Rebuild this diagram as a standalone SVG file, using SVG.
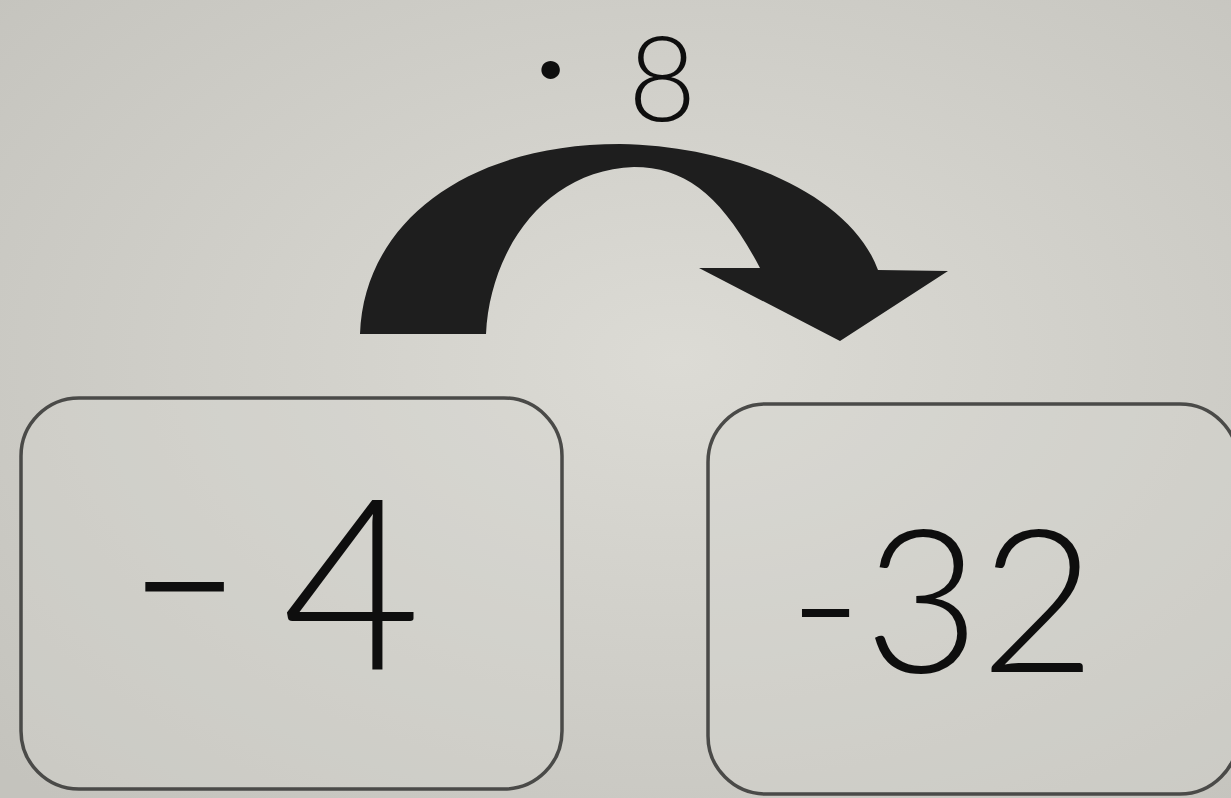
<svg xmlns="http://www.w3.org/2000/svg" width="1231" height="798" viewBox="0 0 1231 798">
  <defs>
    <radialGradient id="bg" cx="0.55" cy="0.45" r="0.75">
      <stop offset="0" stop-color="#dcdbd5"/>
      <stop offset="1" stop-color="#c4c3bd"/>
    </radialGradient>
    <style>
      .box { fill: #d8d7d1; fill-opacity: 0.35; stroke: #4a4a48; stroke-width: 3.5; }
      .hand { font-family: Lato, "Open Sans", "Liberation Sans", sans-serif; font-weight: 300; fill: #0e0e0e; }
    </style>
  </defs>
  <rect width="1231" height="798" fill="url(#bg)"/>

  <g id="connectors">
    <path d="M360,334 C364,222 468,144 620,144 C742,146 852,198 878,270 L948,271 L840,341 L699,268 L760,268 C722,196 686,167 634,167 C545,170 490,250 486,334 Z" fill="#1e1e1e"/>
  </g>

  <g id="label-times-8">
    <text class="hand" x="538" y="97" font-size="90"><tspan font-weight="900">·</tspan><tspan x="628" y="121" font-size="118">8</tspan></text>
  </g>

  <g id="node-minus-4">
    <rect class="box" x="21" y="398" width="541" height="391" rx="58"/>
    <text class="hand" y="670" font-size="240"><tspan x="122" textLength="125" lengthAdjust="spacingAndGlyphs" dy="-12">-</tspan><tspan x="282" dy="12">4</tspan></text>
  </g>

  <g id="node-minus-32">
    <rect class="box" x="708" y="404" width="530" height="390" rx="58"/>
    <text class="hand" y="672" font-size="200"><tspan x="788" textLength="75" lengthAdjust="spacingAndGlyphs">-</tspan><tspan x="864">32</tspan></text>
  </g>
</svg>
